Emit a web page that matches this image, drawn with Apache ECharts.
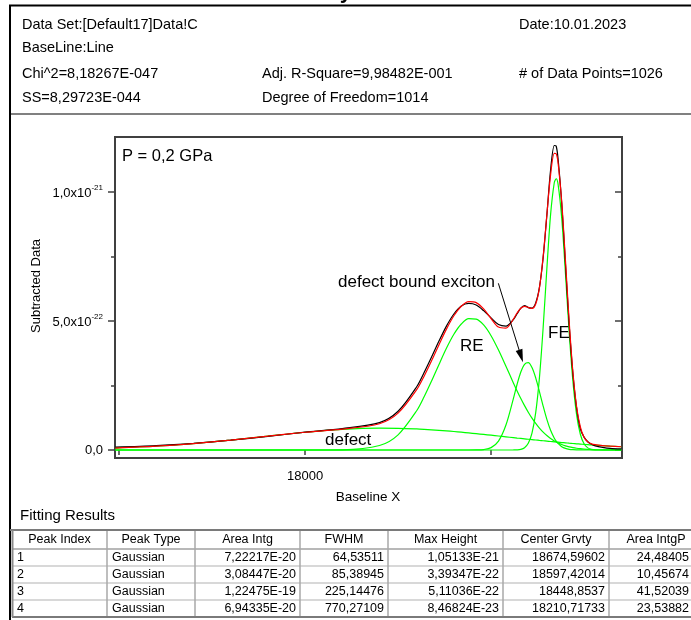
<!DOCTYPE html>
<html>
<head>
<meta charset="utf-8">
<script src="https://cdn.jsdelivr.net/npm/echarts@6/dist/echarts.min.js"></script>
<style>
html,body{margin:0;padding:0;background:#fff;}
#c{width:691px;height:620px;}
</style>
</head>
<body>
<div id="c"></div>
<script>
// ---- data (y values in units of 1e-22) ----
const xValues = [17490,17600,17700,17800,17900,18000,18100,18200,18250,18300,18320,18340,18360,18380,18400,18420,18440,18460,18480,18500,18520,18540,18560,18570,18580,18590,18600,18610,18620,18630,18640,18650,18660,18670,18675,18680,18690,18700,18710,18720,18730,18740,18750,18760,18770,18780,18800,18820,18850];
const measuredData = [0.11,0.17,0.26,0.38,0.53,0.69,0.83,1.06,1.50,2.45,3.00,3.60,4.22,4.80,5.27,5.58,5.68,5.62,5.40,5.12,4.86,4.80,5.05,5.28,5.50,5.60,5.52,5.50,5.70,6.30,7.45,9.10,10.85,11.80,11.78,11.30,9.55,7.20,4.85,2.95,1.62,0.82,0.50,0.32,0.22,0.16,0.10,0.06,0.04];
const fitCurve = [0.075,0.148,0.250,0.385,0.539,0.688,0.807,1.019,1.429,2.337,2.862,3.456,4.081,4.684,5.201,5.573,5.750,5.711,5.467,5.094,4.763,4.722,5.073,5.309,5.492,5.564,5.526,5.486,5.658,6.284,7.493,9.117,10.663,11.492,11.477,11.143,9.609,7.344,4.979,3.022,1.676,0.891,0.493,0.315,0.239,0.206,0.173,0.152,0.126];
const peakDefect = [0.075,0.148,0.250,0.385,0.539,0.688,0.800,0.846,0.841,0.816,0.801,0.783,0.763,0.741,0.716,0.690,0.662,0.633,0.603,0.573,0.542,0.510,0.479,0.463,0.448,0.432,0.417,0.402,0.387,0.372,0.358,0.344,0.330,0.316,0.309,0.303,0.289,0.277,0.264,0.252,0.240,0.229,0.218,0.207,0.196,0.186,0.167,0.149,0.125];
const peakRE = [0,0,0,0,0,0,0.007,0.173,0.588,1.521,2.061,2.673,3.318,3.943,4.485,4.883,5.088,5.075,4.846,4.429,3.874,3.244,2.600,2.290,1.994,1.719,1.465,1.235,1.030,0.849,0.693,0.559,0.446,0.352,0.312,0.275,0.212,0.162,0.122,0.092,0.068,0.050,0.036,0.026,0.018,0.013,0.006,0.003,0.001];
const peakDBE = [0,0,0,0,0,0,0,0,0,0,0,0,0,0,0,0,0,0.003,0.018,0.092,0.347,0.968,1.992,2.549,3.023,3.323,3.385,3.195,2.795,2.266,1.703,1.186,0.765,0.458,0.344,0.254,0.130,0.062,0.027,0.011,0.004,0.002,0,0,0,0,0,0,0];
const peakFE = [0,0,0,0,0,0,0,0,0,0,0,0,0,0,0,0,0,0,0,0,0,0,0.002,0.007,0.027,0.090,0.259,0.654,1.446,2.797,4.739,7.028,9.122,10.366,10.512,10.311,8.978,6.843,4.566,2.667,1.364,0.610,0.239,0.082,0.025,0.007,0,0,0];

const xTickValues = [17500,18000,18500];
const xLabelValues = [18000];
const yMajorTicks = [0,5,10];
const yMinorTicks = [2.5,7.5];
const yTickLabels = {0:'0,0', 5:'{m|5,0x10}{s|-22}', 10:'{m|1,0x10}{s|-21}'};
const arrowFrom = [18519.6, 6.46];
const arrowTo = [18580.5, 3.64];

const infoCol1 = ['Data Set:[Default17]Data!C','BaseLine:Line','Chi^2=8,18267E-047','SS=8,29723E-044'];
const infoCol2 = ['','','Adj. R-Square=9,98482E-001','Degree of Freedom=1014'];
const infoCol3 = ['Date:10.01.2023','','# of Data Points=1026',''];

const tableHeaders = ['Peak Index','Peak Type','Area Intg','FWHM','Max Height','Center Grvty','Area IntgP'];
const peakIndex = ['1','2','3','4'];
const peakType = ['Gaussian','Gaussian','Gaussian','Gaussian'];
const areaIntg = ['7,22217E-20','3,08447E-20','1,22475E-19','6,94335E-20'];
const fwhm = ['64,53511','85,38945','225,14476','770,27109'];
const maxHeight = ['1,05133E-21','3,39347E-22','5,11036E-22','8,46824E-23'];
const centerGrvty = ['18674,59602','18597,42014','18448,8537','18210,71733'];
const areaIntgP = ['24,48405','10,45674','41,52039','23,53882'];

// ---- chart ----
const FONT = '"Liberation Sans", Arial, sans-serif';
const pairs = arr => xValues.map((x,i)=>[x,arr[i]]);
const YMIN = -0.31, YMAX = 12.13;
const AX = '#404040';

const graphics = [];
function txt(x,y,text,size,align,extra){
  const g = {type:'text', x:x, y:y, silent:true, style:Object.assign({text:text, fontSize:size, fontFamily:FONT, fill:'#000', align:align||'left', verticalAlign:'middle'}, extra||{})};
  graphics.push(g); return g;
}
function ln(x1,y1,x2,y2,color,w){
  graphics.push({type:'line', silent:true, shape:{x1,y1,x2,y2}, style:{stroke:color, lineWidth:w}});
}
// frame of report
ln(9,5.5,691,5.5,'#000',2);
ln(10,5,10,620,'#000',2);
ln(11,114,691,114,'#808080',2);
txt(352,-8,'Summary',22,'right',{fontWeight:'bold'});
const rowsY = [25,48,74,98];
rowsY.forEach((y,i)=>{
  if(infoCol1[i]) txt(22,y,infoCol1[i],14.5);
  if(infoCol2[i]) txt(262,y,infoCol2[i],14.5);
  if(infoCol3[i]) txt(519,y,infoCol3[i],14.5);
});
// annotations
txt(122,156,'P = 0,2 GPa',16.5);
txt(338,282,'defect bound exciton',17);
txt(460,346,'RE',17);
txt(548,333,'FE',17);
txt(325,440,'defect',17);
// axis titles
graphics.push({type:'text', x:36, y:286, rotation:Math.PI/2, silent:true, style:{text:'Subtracted Data', fontSize:13, fontFamily:FONT, fill:'#000', align:'center', verticalAlign:'middle'}});
txt(368,497,'Baseline X',13.5,'center');
// fitting results table
txt(20,516,'Fitting Results',15);
const colEdges = [12,107,195,300,388,503,609,703];
const tTop = 530, hBot = 549, rowH = 17;
tableHeaders.forEach((h,c)=>txt((colEdges[c]+colEdges[c+1])/2, 540, h, 12.5, 'center'));
const cols = [peakIndex, peakType, areaIntg, fwhm, maxHeight, centerGrvty, areaIntgP];
const colRight = [null,null,296,384,499,605,689];
for(let r=0;r<4;r++){
  const y = hBot + rowH*r + rowH/2;
  cols.forEach((col,c)=>{
    if(c===0) txt(17,y,col[r],12.5,'left');
    else if(c===1) txt(112,y,col[r],12.5,'left');
    else txt(colRight[c],y,col[r],12.5,'right');
  });
}
for(let r=1;r<4;r++) ln(12,hBot+rowH*r,691,hBot+rowH*r,'#d8d8d8',2);
ln(12,hBot,691,hBot,'#a0a0a0',1.5);
for(let c=1;c<7;c++) ln(colEdges[c],tTop,colEdges[c],hBot+rowH*4,'#a8a8a8',1.5);
ln(10,tTop,691,tTop,'#7a7a7a',2);
ln(12,hBot+rowH*4,691,hBot+rowH*4,'#7a7a7a',2);
ln(12.5,tTop,12.5,hBot+rowH*4,'#8a8a8a',2);

const green = '#00ff00';
function lineSeries(name,arr,color,z){
  return {name, type:'line', data:pairs(arr), showSymbol:false, symbol:'none', smooth:0.3, z:z,
    lineStyle:{color, width:1.2}, itemStyle:{color}, emphasis:{disabled:true}, silent:true, clip:true};
}
const blackSeries = lineSeries('data',measuredData,'#000',3);
blackSeries.markLine = {silent:true, animation:false, label:{show:false}, lineStyle:{color:'#000', width:1, type:'solid'},
  emphasis:{disabled:true},
  data:[[{coord:arrowFrom, symbol:'none'},{coord:arrowTo, symbol:'triangle', symbolSize:[7,13]}]]};

const yAxisBase = {type:'value', min:YMIN, max:YMAX, axisLine:{show:false}, splitLine:{show:false}};
const option = {
  animation:false,
  backgroundColor:'#fff',
  grid:{left:115, top:137, width:507, height:321, show:true, borderColor:AX, borderWidth:2, backgroundColor:'transparent'},
  xAxis:[{type:'value', position:'bottom', min:17489, max:18852, axisLine:{show:false}, splitLine:{show:false},
    axisTick:{show:true, customValues:xTickValues, length:5, lineStyle:{color:AX, width:1.5}},
    axisLabel:{customValues:xLabelValues, formatter:v=>String(v), fontSize:13, fontFamily:FONT, color:'#000', margin:12}}],
  yAxis:[
    Object.assign({}, yAxisBase, {position:'left',
      axisTick:{show:true, customValues:yMajorTicks, length:7, lineStyle:{color:AX, width:1.5}},
      axisLabel:{customValues:yMajorTicks, margin:12, color:'#000', fontSize:13, fontFamily:FONT,
        formatter:v=>yTickLabels[Math.round(v)],
        rich:{m:{fontSize:13, fontFamily:FONT, color:'#000', lineHeight:16, verticalAlign:'bottom'},
              s:{fontSize:8, fontFamily:FONT, color:'#000', lineHeight:16, verticalAlign:'top'}}}}),
    Object.assign({}, yAxisBase, {position:'left',
      axisTick:{show:true, customValues:yMinorTicks, length:4, lineStyle:{color:AX, width:1.5}},
      axisLabel:{show:false}}),
    Object.assign({}, yAxisBase, {position:'right',
      axisTick:{show:true, inside:true, customValues:yMajorTicks, length:7, lineStyle:{color:AX, width:1.5}},
      axisLabel:{show:false}}),
    Object.assign({}, yAxisBase, {position:'right',
      axisTick:{show:true, inside:true, customValues:yMinorTicks, length:4, lineStyle:{color:AX, width:1.5}},
      axisLabel:{show:false}})
  ],
  series:[
    lineSeries('defect',peakDefect,green,2),
    lineSeries('RE',peakRE,green,2),
    lineSeries('DBE',peakDBE,green,2),
    lineSeries('FE',peakFE,green,2),
    blackSeries,
    lineSeries('fit',fitCurve,'#ff0000',4)
  ],
  graphic:graphics
};
const chart = echarts.init(document.getElementById('c'), null, {renderer:'canvas'});
chart.setOption(option);
</script>
</body>
</html>
